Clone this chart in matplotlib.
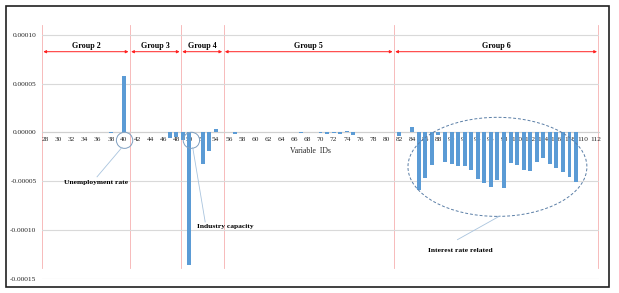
import matplotlib
matplotlib.use("Agg")
import matplotlib.pyplot as plt
import matplotlib.ticker as ticker
from matplotlib.patches import Ellipse, Rectangle

plt.rcParams["font.family"] = ["Liberation Serif", "DejaVu Serif"]
plt.rcParams["axes.unicode_minus"] = False

# Daten
var_ids = list(range(28, 113))
# values in units of 1e-5
importance_e5 = [
    0, 0, 0, 0, 0, 0, 0, 0, 0, 0,          # 28-37
    -0.1, 0, 5.8,                           # 38-40
    0, 0, 0, 0, 0, 0,                       # 41-46
    -0.6, -0.45, -0.75, -13.6, 0,           # 47-51
    -3.2, -1.9, 0.35, 0, 0, -0.15,          # 52-57
    0, 0, 0, 0, 0, 0,                       # 58-63
    0.05, 0, 0, -0.05, 0, 0,                # 64-69
    -0.1, -0.15, -0.1, -0.15, 0.1, -0.25,   # 70-75
    0, 0, 0, 0, 0, 0,                       # 76-81
    -0.35, 0, 0.55,                         # 82-84
    -5.9, -4.7, -3.35, -0.3, -3.0, -3.25,   # 85-90
    -3.5, -3.5, -3.9, -4.8, -5.2, -5.6,     # 91-96
    -4.9, -5.75, -3.1, -3.4, -3.9, -4.0,    # 97-102
    -3.0, -2.6, -3.25, -3.7, -4.1, -4.55,   # 103-108
    -5.1, 0, 0, 0,                          # 109-112
]
importance = [v * 1e-5 for v in importance_e5]

group_names = ["Group 2", "Group 3", "Group 4", "Group 5", "Group 6"]
group_edges = [27.5, 40.9, 48.7, 55.2, 81.2, 112.4]

# Visualisierung
fig = plt.figure(figsize=(6.19, 2.93), dpi=100)
ax = fig.add_axes([42 / 619, 0.0488, 557 / 619, 0.866])

ax.bar(var_ids, importance, width=0.6, color="#5b9bd5", zorder=3)

ax.set_xlim(27.5, 112.5)
ax.set_ylim(-0.00015, 0.00011)
ax.yaxis.set_major_locator(ticker.FixedLocator([-0.00015, -0.0001, -0.00005, 0, 0.00005, 0.0001]))
ax.yaxis.set_major_formatter(ticker.FormatStrFormatter("%.5f"))
ax.xaxis.set_major_locator(ticker.FixedLocator(var_ids[::2]))
ax.tick_params(axis="both", length=0, labelsize=5.3, colors="#262626")
ax.tick_params(axis="x", pad=3.5)
ax.tick_params(axis="y", pad=4)
ax.grid(axis="y", color="#d9d9d9", linewidth=0.8, zorder=0)
for s in ["top", "right", "left"]:
    ax.spines[s].set_visible(False)
ax.spines["bottom"].set_position(("data", 0))
ax.spines["bottom"].set_color("#d0d0d0")
ax.spines["bottom"].set_linewidth(0.8)

ax.text(68.5, -0.0000195, "Variable  IDs", fontsize=5.6, ha="center", va="center", color="#262626")

# Gruppen
for e in group_edges:
    ax.plot([e, e], [-0.000139, 0.00011], color="#f6b0b0", linewidth=0.6, zorder=1)
for name, a, b in zip(group_names, group_edges[:-1], group_edges[1:]):
    ax.annotate("", xy=(a + 0.2, 0.0000826), xytext=(b - 0.2, 0.0000826),
                arrowprops=dict(arrowstyle="<|-|>", color="#ff2020", lw=0.7,
                                mutation_scale=4, shrinkA=0, shrinkB=0))
    ax.text((a + b) / 2, 0.0000887, name, fontsize=5.8, fontweight="bold",
            ha="center", va="center")

# Annotationen
note_color = "#7f9fc0"
ax.add_patch(Ellipse((40.1, -0.0000082), 2.5, 0.0000165, fill=False, ec=note_color, lw=0.7, zorder=4))
ax.plot([39.7, 35.9], [-0.0000155, -0.0000456], color="#a9c4de", lw=0.6, zorder=4)
ax.text(35.7, -0.0000518, "Unemployment rate", fontsize=5.4, fontweight="bold", ha="center", va="center")

ax.add_patch(Ellipse((50.3, -0.0000082), 2.5, 0.0000165, fill=False, ec=note_color, lw=0.7, zorder=4))
ax.plot([50.5, 52.4], [-0.0000155, -0.0000918], color="#a9c4de", lw=0.6, zorder=4)
ax.text(55.4, -0.0000969, "Industry capacity", fontsize=5.4, fontweight="bold", ha="center", va="center")

ax.add_patch(Ellipse((97.0, -0.0000354), 27.3, 0.0001015, fill=False, ec="#5a7ea6",
                     lw=0.7, linestyle=(0, (3, 2)), zorder=4))
ax.plot([97.4, 90.9], [-0.0000856, -0.00011], color="#a9c4de", lw=0.6, zorder=4)
ax.text(91.3, -0.0001215, "Interest rate related", fontsize=5.4, fontweight="bold", ha="center", va="center")

fig.patches.append(Rectangle((6 / 619, 6 / 293), 603 / 619, 281 / 293, transform=fig.transFigure,
                             fill=False, ec="#202020", lw=1.2))

plt.savefig("out.png", dpi=100)
